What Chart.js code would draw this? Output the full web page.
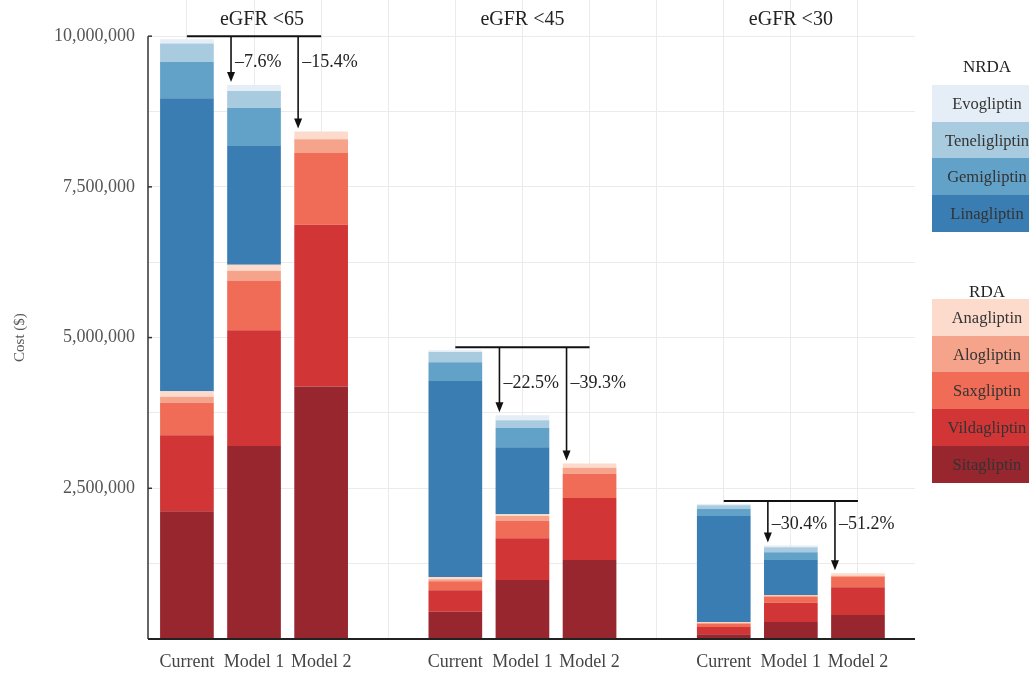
<!DOCTYPE html>
<html><head><meta charset="utf-8">
<script src="https://cdn.jsdelivr.net/npm/chart.js@4/dist/chart.umd.min.js"></script>
<style>
html,body{margin:0;padding:0;background:#fff;width:1029px;height:673px;overflow:hidden;}
#wrap{position:relative;width:1029px;height:673px;overflow:hidden;}
canvas{position:absolute;left:0;top:0;}
.lgt{position:absolute;left:932px;width:110px;text-align:center;font-family:'Liberation Serif',serif;font-size:17px;color:#222;line-height:20px;}
.lgb{position:absolute;left:932px;width:110px;height:37px;line-height:37px;text-align:center;font-family:'Liberation Serif',serif;font-size:16.5px;color:#333;}
</style></head><body>
<div id="wrap"><canvas id="c" width="1029" height="673"></canvas><div id="legend"></div></div>
<script>
const groups = ['eGFR <65', 'eGFR <45', 'eGFR <30'];
const scenarios = ['Current', 'Model 1', 'Model 2'];
const reductions = [['–7.6%', '–15.4%'], ['–22.5%', '–39.3%'], ['–30.4%', '–51.2%']];
const yLabelTicks = [2500000, 5000000, 7500000, 10000000];
const yTitle = 'Cost ($)';

// Segment costs ($) per bar: eGFR<65 (Current, Model 1, Model 2), eGFR<45 (...), eGFR<30 (...)
const sitagliptin   = [2120000, 3200000, 4190000,  450000,  980000, 1310000,   80000, 280000, 400000];
const vildagliptin  = [1260000, 1920000, 2680000,  360000,  690000, 1030000,  120000, 320000, 460000];
const saxagliptin   = [ 540000,  820000, 1190000,  150000,  290000,  400000,   50000, 100000, 170000];
const alogliptin    = [ 100000,  170000,  230000,   30000,   80000,  100000,   20000,  20000,  20000];
const anagliptin    = [  90000,  100000,  130000,   40000,   30000,   70000,   10000,  10000,  40000];
const linagliptin   = [4860000, 1970000,       0, 3250000, 1110000,       0, 1760000, 580000,      0];
const gemigliptin   = [ 600000,  630000,       0,  310000,  320000,       0,  120000, 130000,      0];
const teneligliptin = [ 310000,  280000,       0,  170000,  130000,       0,   60000,  80000,      0];
const evogliptin    = [  70000,  100000,       0,   30000,   80000,       0,   20000,  30000,      0];

const series = [
  {name: 'Sitagliptin',   values: sitagliptin,   color: '#98262e', cls: 'RDA'},
  {name: 'Vildagliptin',  values: vildagliptin,  color: '#d23536', cls: 'RDA'},
  {name: 'Saxgliptin',    values: saxagliptin,   color: '#f06c56', cls: 'RDA'},
  {name: 'Alogliptin',    values: alogliptin,    color: '#f5a38a', cls: 'RDA'},
  {name: 'Anagliptin',    values: anagliptin,    color: '#fddbcc', cls: 'RDA'},
  {name: 'Linagliptin',   values: linagliptin,   color: '#3a7db3', cls: 'NRDA'},
  {name: 'Gemigliptin',   values: gemigliptin,   color: '#62a2c9', cls: 'NRDA'},
  {name: 'Teneligliptin', values: teneligliptin, color: '#a9cbdf', cls: 'NRDA'},
  {name: 'Evogliptin',    values: evogliptin,    color: '#e5edf6', cls: 'NRDA'}
];

const slot = i => Math.floor(i / 3) * 4 + (i % 3);   // bar index -> x slot (gap between groups)
const nSlots = groups.length * 4 - 1;
const totals = sitagliptin.map((_, i) => series.reduce((a, s) => a + s.values[i], 0));
const serif = "'Liberation Serif', 'Times New Roman', serif";

const annot = {
  id: 'annot',
  afterDatasetsDraw(chart) {
    const ctx = chart.ctx, xs = chart.scales.x, ys = chart.scales.y, ca = chart.chartArea;
    ctx.save();
    // axis lines
    ctx.strokeStyle = '#333'; ctx.lineWidth = 1.5;
    ctx.beginPath();
    ctx.moveTo(ca.left, ys.getPixelForValue(0)); ctx.lineTo(ca.left, ys.getPixelForValue(10000000));
    ctx.stroke();
    [0].concat(yLabelTicks).forEach(v => {
      const y = ys.getPixelForValue(v);
      ctx.beginPath(); ctx.moveTo(ca.left, y); ctx.lineTo(ca.left + 4, y); ctx.stroke();
    });
    ctx.strokeStyle = '#222'; ctx.lineWidth = 2;
    ctx.beginPath(); ctx.moveTo(ca.left, ca.bottom); ctx.lineTo(ca.right, ca.bottom); ctx.stroke();

    // y-axis title, centred on the middle labelled tick
    ctx.save();
    ctx.translate(20, ys.getPixelForValue(yLabelTicks[1]));
    ctx.rotate(-Math.PI / 2);
    ctx.fillStyle = '#555'; ctx.font = '15px ' + serif; ctx.textAlign = 'center'; ctx.textBaseline = 'middle';
    ctx.fillText(yTitle, 0, 0);
    ctx.restore();

    // group titles and reduction brackets
    groups.forEach((g, gi) => {
      const base = gi * 3;
      ctx.fillStyle = '#222'; ctx.font = '20px ' + serif; ctx.textAlign = 'center'; ctx.textBaseline = 'middle';
      ctx.fillText(g, xs.getPixelForValue(slot(base + 1)) + (gi === 0 ? 8 : 0), 20);

      const xC = xs.getPixelForValue(slot(base));
      const xM2 = xs.getPixelForValue(slot(base + 2));
      const yLine = ys.getPixelForValue(totals[base]) - 3;
      ctx.strokeStyle = '#111'; ctx.lineWidth = 2;
      ctx.beginPath(); ctx.moveTo(xC, yLine); ctx.lineTo(xM2, yLine); ctx.stroke();
      const tip1 = ys.getPixelForValue(totals[base + 1]) - 3;
      const labelY = (yLine + tip1) / 2 + 3;
      [1, 2].forEach(k => {
        const ax = xs.getPixelForValue(slot(base + k)) - 23;
        const tip = ys.getPixelForValue(totals[base + k]) - 3;
        ctx.strokeStyle = '#111'; ctx.lineWidth = 1.6;
        ctx.beginPath(); ctx.moveTo(ax, yLine); ctx.lineTo(ax, tip - 8); ctx.stroke();
        ctx.fillStyle = '#111';
        ctx.beginPath(); ctx.moveTo(ax - 4, tip - 10); ctx.lineTo(ax + 4, tip - 10); ctx.lineTo(ax, tip); ctx.closePath(); ctx.fill();
        ctx.fillStyle = '#222'; ctx.font = '18px ' + serif; ctx.textAlign = 'left'; ctx.textBaseline = 'middle';
        ctx.fillText(reductions[gi][k - 1], ax + 4, labelY);
      });
    });
    ctx.restore();
  }
};

new Chart(document.getElementById('c'), {
  type: 'bar',
  data: {
    datasets: series.map(s => ({
      label: s.name,
      data: s.values.map((v, i) => ({x: slot(i), y: v})),
      backgroundColor: s.color,
      borderWidth: 0,
      barPercentage: 0.8,
      categoryPercentage: 1.0,
      stack: 'cost'
    }))
  },
  options: {
    responsive: false,
    animation: false,
    layout: {padding: {left: 0, right: 114, top: 0, bottom: 0}},
    plugins: {legend: {display: false}, tooltip: {enabled: false}},
    scales: {
      x: {
        type: 'linear', stacked: true, offset: false, min: -0.58, max: 10.85,
        afterBuildTicks: s => { s.ticks = Array.from({length: nSlots}, (_, i) => ({value: i})); },
        afterFit: s => { s.height = 34; s.paddingLeft = 0; s.paddingRight = 0; },
        grid: {color: '#ebebeb', lineWidth: 1, drawTicks: false, offset: false},
        border: {display: false},
        ticks: {
          autoSkip: false, maxRotation: 0, padding: 12,
          color: '#444', font: {family: serif, size: 18},
          callback: v => (Number.isInteger(v) && v % 4 < 3) ? scenarios[v % 4] : ''
        }
      },
      y: {
        stacked: true, min: 0, max: 10600000,
        afterBuildTicks: s => { s.ticks = Array.from({length: 9}, (_, i) => ({value: i * 1250000})); },
        afterFit: s => { s.width = 148; s.paddingTop = 0; s.paddingBottom = 0; },
        grid: {color: '#ebebeb', lineWidth: 1, drawTicks: false},
        border: {display: false},
        ticks: {
          padding: 13, color: '#555', font: {family: serif, size: 18},
          callback: v => yLabelTicks.includes(v) ? v.toLocaleString('en-US') : ''
        }
      }
    }
  },
  plugins: [annot]
});

// Legend (HTML) built from the series
const lg = document.getElementById('legend');
function block(cls, titleY, boxTop) {
  const t = document.createElement('div');
  t.className = 'lgt'; t.textContent = cls; t.style.top = (titleY - 10) + 'px';
  lg.appendChild(t);
  series.filter(s => s.cls === cls).reverse().forEach((s, i) => {
    const b = document.createElement('div');
    b.className = 'lgb'; b.textContent = s.name;
    b.style.top = (boxTop + i * 36.7) + 'px';
    b.style.background = s.color;
    lg.appendChild(b);
  });
}
block('NRDA', 67, 85);
block('RDA', 292, 299);
</script>
</body></html>
